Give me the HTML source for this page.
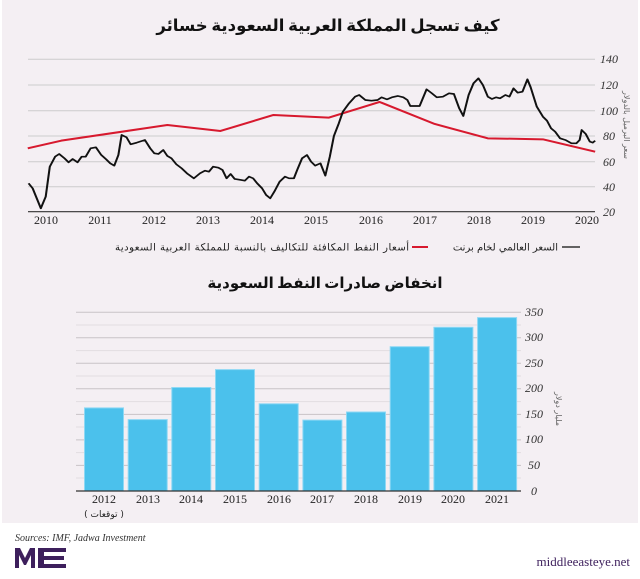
<!DOCTYPE html>
<html><head><meta charset="utf-8"><style>
html,body{margin:0;padding:0;background:#fff;width:640px;height:579px;overflow:hidden}
svg{display:block}
</style></head><body>
<svg width="640" height="579" viewBox="0 0 640 579" xmlns="http://www.w3.org/2000/svg">
<rect x="2" y="0" width="636" height="523" fill="#f4eff3"/>
<text x="328" y="31" text-anchor="middle" font-family="'Noto Sans CJK SC','DejaVu Sans',sans-serif" font-weight="bold" font-size="16.5" fill="#111">كيف تسجل المملكة العربية السعودية خسائر</text>
<g stroke="#ccc" stroke-width="1">
<line x1="28" y1="59.3" x2="595" y2="59.3"/><line x1="28" y1="85" x2="595" y2="85"/><line x1="28" y1="110.7" x2="595" y2="110.7"/><line x1="28" y1="136" x2="595" y2="136"/><line x1="28" y1="161.7" x2="595" y2="161.7"/><line x1="28" y1="186.7" x2="595" y2="186.7"/>
</g>
<line x1="28" y1="211.7" x2="595" y2="211.7" stroke="#333" stroke-width="1.2"/>
<g font-family="'Liberation Serif',serif" font-style="italic" font-size="12" fill="#333">
<text x="600" y="63">140</text><text x="600" y="89">120</text><text x="600" y="115">100</text><text x="603" y="140">80</text><text x="603" y="166">60</text><text x="603" y="191">40</text><text x="603" y="216">20</text>
</g>
<g font-family="'Liberation Serif',serif" font-size="12" fill="#222" text-anchor="middle">
<text x="46" y="224">2010</text><text x="100" y="224">2011</text><text x="154" y="224">2012</text><text x="208" y="224">2013</text><text x="262" y="224">2014</text><text x="316" y="224">2015</text><text x="371" y="224">2016</text><text x="425" y="224">2017</text><text x="479" y="224">2018</text><text x="533" y="224">2019</text><text x="587" y="224">2020</text>
</g>
<text transform="translate(624,125) rotate(90)" text-anchor="middle" font-family="'DejaVu Sans',sans-serif" font-size="8" fill="#666">سعر البرميل بالدولار</text>
<g transform="scale(0.4082,0.3333)" fill="none" stroke-linejoin="round">
<polyline stroke="#d7192e" stroke-width="6" points="68,445 150,422 410,375 540,393 670,345 805,353 930,306 1065,372 1195,415 1330,418 1458,455"/>
<polyline stroke="#111" stroke-width="5" points="70,550 80,565 100,625 112,590 122,500 135,470 145,462 158,475 168,487 178,477 190,487 200,470 210,470 222,445 235,442 248,465 260,478 270,490 280,497 290,465 298,405 310,412 320,433 335,428 355,420 368,445 378,460 388,462 400,450 410,468 420,475 432,493 445,505 458,520 475,535 490,520 502,512 512,515 522,500 535,503 545,510 555,535 565,522 575,537 590,540 600,542 610,530 620,535 630,550 642,565 652,585 662,595 672,575 685,545 698,530 708,535 720,535 728,510 740,475 752,465 762,485 772,497 785,490 797,527 808,470 818,408 830,370 840,335 855,310 870,290 880,285 895,300 910,302 925,300 935,292 948,298 960,292 975,288 988,292 998,300 1005,318 1028,318 1045,268 1058,280 1070,292 1085,290 1100,280 1112,282 1125,325 1135,348 1148,285 1160,250 1172,235 1183,255 1195,290 1205,297 1215,292 1225,295 1238,285 1248,290 1258,265 1268,278 1280,275 1292,238 1300,262 1315,320 1330,350 1340,362 1350,385 1360,395 1372,415 1385,420 1400,430 1412,430 1420,420 1425,390 1435,402 1445,425 1452,428 1458,422"/>
</g>
<line x1="562" y1="247" x2="580" y2="247" stroke="#333" stroke-width="1.5"/>
<text x="558" y="250.5" text-anchor="end" font-family="'DejaVu Sans',sans-serif" font-size="10" fill="#222">السعر العالمي لخام برنت</text>
<line x1="412" y1="247" x2="428" y2="247" stroke="#d7192e" stroke-width="2"/>
<text x="409" y="250.5" text-anchor="end" textLength="294" font-family="'DejaVu Sans',sans-serif" font-size="10" fill="#222">أسعار النفط المكافئة للتكاليف بالنسبة للمملكة العربية السعودية</text>

<text x="325" y="288" text-anchor="middle" font-family="'Noto Sans CJK SC','DejaVu Sans',sans-serif" font-weight="bold" font-size="15" fill="#111">انخفاض صادرات النفط السعودية</text>
<g stroke="#e2dde1" stroke-width="1">
<line x1="76" y1="325" x2="521" y2="325"/><line x1="76" y1="350.6" x2="521" y2="350.6"/><line x1="76" y1="376" x2="521" y2="376"/><line x1="76" y1="401.6" x2="521" y2="401.6"/><line x1="76" y1="427" x2="521" y2="427"/><line x1="76" y1="452.6" x2="521" y2="452.6"/><line x1="76" y1="478" x2="521" y2="478"/>
</g>
<g stroke="#c8c3c7" stroke-width="1">
<line x1="76" y1="312.3" x2="521" y2="312.3"/><line x1="76" y1="337.8" x2="521" y2="337.8"/><line x1="76" y1="363.3" x2="521" y2="363.3"/><line x1="76" y1="388.8" x2="521" y2="388.8"/><line x1="76" y1="414.4" x2="521" y2="414.4"/><line x1="76" y1="439.9" x2="521" y2="439.9"/><line x1="76" y1="465.4" x2="521" y2="465.4"/>
</g>
<g fill="#4bc1ec" stroke="#8ed8f4" stroke-width="1">
<rect x="84.5" y="407.9" width="39" height="83.1"/>
<rect x="128.2" y="419.6" width="39" height="71.4"/>
<rect x="171.8" y="387.5" width="39" height="103.5"/>
<rect x="215.5" y="369.6" width="39" height="121.4"/>
<rect x="259.2" y="403.8" width="39" height="87.2"/>
<rect x="302.9" y="420.1" width="39" height="70.9"/>
<rect x="346.5" y="412" width="39" height="79"/>
<rect x="390.2" y="346.7" width="39" height="144.3"/>
<rect x="433.9" y="327.3" width="39" height="163.7"/>
<rect x="477.6" y="317.6" width="39" height="173.4"/>
</g>
<line x1="76" y1="491" x2="521" y2="491" stroke="#333" stroke-width="1.2"/>
<g font-family="'Liberation Serif',serif" font-style="italic" font-size="12" fill="#333">
<text x="525" y="316">350</text><text x="525" y="341">300</text><text x="525" y="367">250</text><text x="525" y="392">200</text><text x="525" y="418">150</text><text x="525" y="443">100</text><text x="528" y="469">50</text><text x="531" y="495">0</text>
</g>
<g font-family="'Liberation Serif',serif" font-size="12" fill="#222" text-anchor="middle">
<text x="104" y="503">2012</text><text x="148" y="503">2013</text><text x="191" y="503">2014</text><text x="235" y="503">2015</text><text x="279" y="503">2016</text><text x="322" y="503">2017</text><text x="366" y="503">2018</text><text x="410" y="503">2019</text><text x="453" y="503">2020</text><text x="497" y="503">2021</text>
</g>
<text x="104" y="517" text-anchor="middle" font-family="'DejaVu Sans',sans-serif" font-size="9" fill="#222">( توقعات )</text>
<text transform="translate(556,409) rotate(90)" text-anchor="middle" font-family="'DejaVu Sans',sans-serif" font-size="8" fill="#666">مليار دولار</text>

<text x="15" y="541" font-family="'Liberation Serif',serif" font-style="italic" font-size="10" fill="#333">Sources: IMF, Jadwa Investment</text>
<g fill="#3d1f5c">
<path d="M15 568 V548 H20 L25 558 L30 548 H35 V568 H31 V555 L26 565 H24 L19 555 V568 Z"/>
<rect x="38" y="548" width="6" height="20"/>
<rect x="38" y="548" width="14" height="4"/><rect x="38" y="556" width="14" height="4"/><rect x="38" y="564" width="14" height="4"/>
<rect x="52" y="548" width="14" height="4"/><rect x="52" y="556" width="12" height="4"/><rect x="52" y="564" width="14" height="4"/>
</g>
<text x="630" y="566" text-anchor="end" font-family="'Liberation Serif',serif" font-size="13" fill="#3d1f5c">middleeasteye.net</text>
</svg>
</body></html>
